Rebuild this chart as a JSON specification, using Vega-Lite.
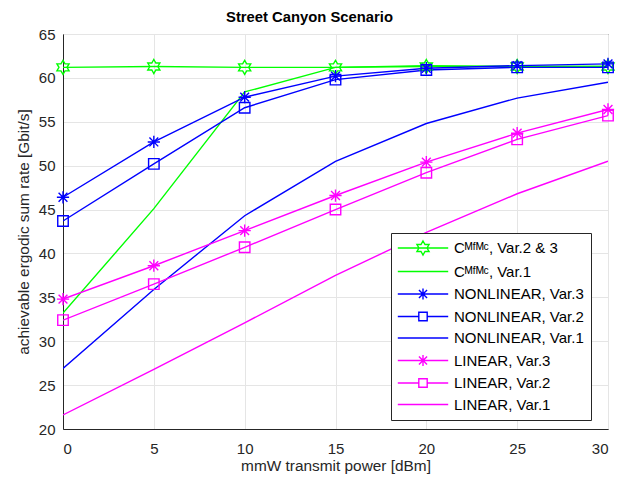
{
  "$schema": "https://vega.github.io/schema/vega-lite/v6.json",
  "width": 545,
  "height": 395,
  "autosize": {"type": "none"},
  "padding": {"left": 63, "top": 34, "right": 10, "bottom": 52},
  "background": "white",
  "title": {"text": "Street Canyon Scenario", "fontSize": 14.8, "fontWeight": "bold", "font": "Liberation Sans", "color": "#000000", "offset": 2, "dx": -26},
  "config": {
    "font": "Liberation Sans",
    "view": {"stroke": "#262626", "strokeWidth": 1},
    "axis": {"labelFont": "Liberation Sans", "labelFontSize": 15, "labelColor": "#262626", "titleFont": "Liberation Sans", "titleFontSize": 15.4, "titleFontWeight": "normal", "titleColor": "#262626", "domainColor": "#262626", "tickColor": "#262626", "gridColor": "#e5e5e5", "gridWidth": 1},
    "legend": {"symbolSize": 196, "labelFontSize": 15, "labelFont": "Liberation Sans", "labelColor": "#000000", "strokeColor": "#262626", "fillColor": "white", "padding": 7, "rowPadding": 5.5, "symbolOffset": 17, "labelOffset": 23, "symbolStrokeWidth": 1.4, "symbolFillColor": "transparent"}
  },
  "datasets": {
    "d": [
      {"s": "Cᴹᶠᴹᶜ, Var.2 & 3", "m": "hex", "x": 0, "y": 61.2},
      {"s": "Cᴹᶠᴹᶜ, Var.2 & 3", "m": "hex", "x": 5, "y": 61.3},
      {"s": "Cᴹᶠᴹᶜ, Var.2 & 3", "m": "hex", "x": 10, "y": 61.2},
      {"s": "Cᴹᶠᴹᶜ, Var.2 & 3", "m": "hex", "x": 15, "y": 61.2},
      {"s": "Cᴹᶠᴹᶜ, Var.2 & 3", "m": "hex", "x": 20, "y": 61.3},
      {"s": "Cᴹᶠᴹᶜ, Var.2 & 3", "m": "hex", "x": 25, "y": 61.3},
      {"s": "Cᴹᶠᴹᶜ, Var.2 & 3", "m": "hex", "x": 30, "y": 61.3},
      {"s": "Cᴹᶠᴹᶜ, Var.1", "m": "none", "x": 0, "y": 33.2},
      {"s": "Cᴹᶠᴹᶜ, Var.1", "m": "none", "x": 5, "y": 45.1},
      {"s": "Cᴹᶠᴹᶜ, Var.1", "m": "none", "x": 10, "y": 58.4},
      {"s": "Cᴹᶠᴹᶜ, Var.1", "m": "none", "x": 15, "y": 61.2},
      {"s": "Cᴹᶠᴹᶜ, Var.1", "m": "none", "x": 20, "y": 61.4},
      {"s": "Cᴹᶠᴹᶜ, Var.1", "m": "none", "x": 25, "y": 61.3},
      {"s": "Cᴹᶠᴹᶜ, Var.1", "m": "none", "x": 30, "y": 61.3},
      {"s": "NONLINEAR, Var.3", "m": "ast", "x": 0, "y": 46.4},
      {"s": "NONLINEAR, Var.3", "m": "ast", "x": 5, "y": 52.7},
      {"s": "NONLINEAR, Var.3", "m": "ast", "x": 10, "y": 57.8},
      {"s": "NONLINEAR, Var.3", "m": "ast", "x": 15, "y": 60.2},
      {"s": "NONLINEAR, Var.3", "m": "ast", "x": 20, "y": 61.1},
      {"s": "NONLINEAR, Var.3", "m": "ast", "x": 25, "y": 61.4},
      {"s": "NONLINEAR, Var.3", "m": "ast", "x": 30, "y": 61.6},
      {"s": "NONLINEAR, Var.2", "m": "sq", "x": 0, "y": 43.7},
      {"s": "NONLINEAR, Var.2", "m": "sq", "x": 5, "y": 50.2},
      {"s": "NONLINEAR, Var.2", "m": "sq", "x": 10, "y": 56.6},
      {"s": "NONLINEAR, Var.2", "m": "sq", "x": 15, "y": 59.8},
      {"s": "NONLINEAR, Var.2", "m": "sq", "x": 20, "y": 60.9},
      {"s": "NONLINEAR, Var.2", "m": "sq", "x": 25, "y": 61.2},
      {"s": "NONLINEAR, Var.2", "m": "sq", "x": 30, "y": 61.2},
      {"s": "NONLINEAR, Var.1", "m": "none", "x": 0, "y": 26.9},
      {"s": "NONLINEAR, Var.1", "m": "none", "x": 5, "y": 35.9},
      {"s": "NONLINEAR, Var.1", "m": "none", "x": 10, "y": 44.3},
      {"s": "NONLINEAR, Var.1", "m": "none", "x": 15, "y": 50.5},
      {"s": "NONLINEAR, Var.1", "m": "none", "x": 20, "y": 54.8},
      {"s": "NONLINEAR, Var.1", "m": "none", "x": 25, "y": 57.7},
      {"s": "NONLINEAR, Var.1", "m": "none", "x": 30, "y": 59.5},
      {"s": "LINEAR, Var.3", "m": "ast", "x": 0, "y": 34.8},
      {"s": "LINEAR, Var.3", "m": "ast", "x": 5, "y": 38.6},
      {"s": "LINEAR, Var.3", "m": "ast", "x": 10, "y": 42.6},
      {"s": "LINEAR, Var.3", "m": "ast", "x": 15, "y": 46.6},
      {"s": "LINEAR, Var.3", "m": "ast", "x": 20, "y": 50.4},
      {"s": "LINEAR, Var.3", "m": "ast", "x": 25, "y": 53.7},
      {"s": "LINEAR, Var.3", "m": "ast", "x": 30, "y": 56.4},
      {"s": "LINEAR, Var.2", "m": "sq", "x": 0, "y": 32.4},
      {"s": "LINEAR, Var.2", "m": "sq", "x": 5, "y": 36.5},
      {"s": "LINEAR, Var.2", "m": "sq", "x": 10, "y": 40.7},
      {"s": "LINEAR, Var.2", "m": "sq", "x": 15, "y": 45.0},
      {"s": "LINEAR, Var.2", "m": "sq", "x": 20, "y": 49.2},
      {"s": "LINEAR, Var.2", "m": "sq", "x": 25, "y": 53.0},
      {"s": "LINEAR, Var.2", "m": "sq", "x": 30, "y": 55.7},
      {"s": "LINEAR, Var.1", "m": "none", "x": 0, "y": 21.6},
      {"s": "LINEAR, Var.1", "m": "none", "x": 5, "y": 26.8},
      {"s": "LINEAR, Var.1", "m": "none", "x": 10, "y": 32.1},
      {"s": "LINEAR, Var.1", "m": "none", "x": 15, "y": 37.5},
      {"s": "LINEAR, Var.1", "m": "none", "x": 20, "y": 42.4},
      {"s": "LINEAR, Var.1", "m": "none", "x": 25, "y": 46.8},
      {"s": "LINEAR, Var.1", "m": "none", "x": 30, "y": 50.5}
    ]
  },
  "data": {"name": "d"},
  "encoding": {
    "x": {"field": "x", "type": "quantitative", "scale": {"domain": [0, 30], "nice": false, "zero": false}, "axis": {"title": "mmW transmit power [dBm]", "values": [0, 5, 10, 15, 20, 25, 30], "grid": true, "ticks": false, "labelPadding": 12, "titlePadding": 2}},
    "y": {"field": "y", "type": "quantitative", "scale": {"domain": [20, 65], "nice": false, "zero": false}, "axis": {"title": "achievable ergodic sum rate [Gbit/s]", "values": [20, 25, 30, 35, 40, 45, 50, 55, 60, 65], "grid": true, "ticks": false, "labelPadding": 8, "titlePadding": 7}},
    "color": {"field": "s", "type": "nominal", "legend": {"title": null, "orient": "none", "legendX": 328, "legendY": 199}, "scale": {"domain": ["Cᴹᶠᴹᶜ, Var.2 & 3", "Cᴹᶠᴹᶜ, Var.1", "NONLINEAR, Var.3", "NONLINEAR, Var.2", "NONLINEAR, Var.1", "LINEAR, Var.3", "LINEAR, Var.2", "LINEAR, Var.1"], "range": ["#00ff00", "#00ff00", "#0000ff", "#0000ff", "#0000ff", "#ff00ff", "#ff00ff", "#ff00ff"]}}
  },
  "layer": [
    {
      "mark": {"type": "line", "strokeWidth": 1.4, "clip": true},
      "encoding": {"detail": {"field": "s"}}
    },
    {
      "transform": [{"filter": "datum.m == 'hex'"}],
      "mark": {"type": "point", "filled": false, "strokeWidth": 1.4, "opacity": 1, "size": 196, "shape": "M0,-1L0.289,-0.5L0.866,-0.5L0.577,0L0.866,0.5L0.289,0.5L0,1L-0.289,0.5L-0.866,0.5L-0.577,0L-0.866,-0.5L-0.289,-0.5Z"},
      "encoding": {}
    },
    {
      "transform": [{"filter": "datum.m == 'ast'"}],
      "mark": {"type": "point", "filled": false, "strokeWidth": 1.4, "opacity": 1, "size": 150, "shape": "M0,-1L0,1M-1,0L1,0M-0.72,-0.72L0.72,0.72M-0.72,0.72L0.72,-0.72"},
      "encoding": {}
    },
    {
      "transform": [{"filter": "datum.m == 'sq'"}],
      "mark": {"type": "point", "filled": false, "strokeWidth": 1.4, "opacity": 1, "size": 196, "shape": "M-0.75,-0.75L0.75,-0.75L0.75,0.75L-0.75,0.75Z"},
      "encoding": {}
    },
    {
      "transform": [{"filter": "datum.x < -100"}],
      "mark": {"type": "point", "filled": false, "strokeWidth": 1.4, "size": 196},
      "encoding": {
        "shape": {"field": "s", "type": "nominal", "legend": {"title": null, "orient": "none", "legendX": 328, "legendY": 199}, "scale": {"domain": ["Cᴹᶠᴹᶜ, Var.2 & 3", "Cᴹᶠᴹᶜ, Var.1", "NONLINEAR, Var.3", "NONLINEAR, Var.2", "NONLINEAR, Var.1", "LINEAR, Var.3", "LINEAR, Var.2", "LINEAR, Var.1"], "range": [
          "M-3.6,0L3.6,0M0,-1L0.289,-0.5L0.866,-0.5L0.577,0L0.866,0.5L0.289,0.5L0,1L-0.289,0.5L-0.866,0.5L-0.577,0L-0.866,-0.5L-0.289,-0.5Z",
          "M-3.6,0L3.6,0",
          "M-3.6,0L3.6,0M0,-0.8L0,0.8M-0.58,-0.58L0.58,0.58M-0.58,0.58L0.58,-0.58",
          "M-3.6,0L-0.6,0M0.6,0L3.6,0M-0.6,-0.6L0.6,-0.6L0.6,0.6L-0.6,0.6Z",
          "M-3.6,0L3.6,0",
          "M-3.6,0L3.6,0M0,-0.8L0,0.8M-0.58,-0.58L0.58,0.58M-0.58,0.58L0.58,-0.58",
          "M-3.6,0L-0.6,0M0.6,0L3.6,0M-0.6,-0.6L0.6,-0.6L0.6,0.6L-0.6,0.6Z",
          "M-3.6,0L3.6,0"
        ]}}
      }
    }
  ]
}
